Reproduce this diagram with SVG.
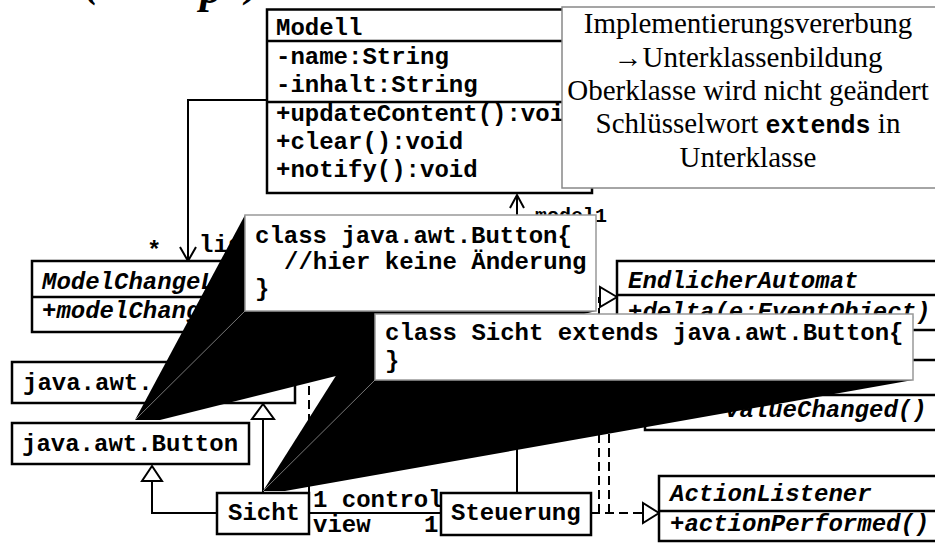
<svg xmlns="http://www.w3.org/2000/svg" width="935" height="543" viewBox="0 0 935 543">
<style>
.box{fill:#fff;stroke:#000;stroke-width:2.5}
.div{stroke:#000;stroke-width:2.5}
.t{font-family:"Liberation Mono","DejaVu Sans Mono",monospace;font-weight:bold;font-size:24px;fill:#000}
.i{font-style:italic}
.conn{stroke:#000;stroke-width:2;fill:none}
.dash{stroke-dasharray:9,5}
.tri{fill:#fff;stroke:#000;stroke-width:2}
.wedge{fill:#000}
.thin{stroke:#777;stroke-width:1;fill:none}
.callout{fill:#fff;stroke:#999;stroke-width:1.5}
.serif{font-family:"Liberation Serif","Times New Roman",serif;font-size:29px;fill:#000}
</style>

<g id="title">
  <text class="serif" style="font-size:44px;font-weight:bold;font-style:italic" x="84" y="-4">(</text>
  <text class="serif" style="font-size:44px;font-weight:bold;font-style:italic" x="200" y="3">p</text>
  <text class="serif" style="font-size:44px;font-weight:bold;font-style:italic" x="246" y="-4">)</text>
</g>

<g id="connectors">
  <path class="conn" d="M267,100 H188 V260"/>
  <path class="conn" d="M180,247 L188,261 L196,247"/>
  <text class="t" x="147" y="258">*</text>
  <text class="t" x="199" y="252">listener</text>

  <path class="conn" d="M217,513 H152 V481"/>
  <polygon class="tri" points="152,466 142,481 162,481"/>
  <path class="conn" d="M263,493 V419"/>
  <polygon class="tri" points="263,404 252,419 274,419"/>
  <path class="conn dash" d="M309,493 V332"/>

  <path class="conn" d="M309,513 H441"/>
  <text class="t" x="313" y="507">1 control</text>
  <text class="t" x="313" y="532">view</text>
  <text class="t" x="424" y="532">1</text>

  <path class="conn" d="M517,493 V195"/>
  <path class="conn" d="M510,208 L517,195 L524,208"/>
  <text class="t" style="font-size:20px" x="535" y="222">model1</text>

  <path class="conn dash" d="M591,513 H643"/>
  <polygon class="tri" points="659,513 643,503 643,523"/>
  <path class="conn dash" d="M599,513 V297"/>
  <polygon class="tri" points="617,297 600,287 600,307"/>
  <path class="conn dash" d="M609,513 V377 H629"/>
  <polygon class="tri" points="645,377 629,367 629,387"/>
</g>

<g id="Modell">
  <rect class="box" x="267" y="9.5" width="325" height="183.5"/>
  <line class="div" x1="267" y1="41" x2="592" y2="41"/>
  <line class="div" x1="267" y1="102" x2="592" y2="102"/>
  <text class="t" x="276" y="35">Modell</text>
  <text class="t" x="276" y="64">-name:String</text>
  <text class="t" x="276" y="92">-inhalt:String</text>
  <text class="t" x="276" y="121">+updateContent():void</text>
  <text class="t" x="276" y="149">+clear():void</text>
  <text class="t" x="276" y="177">+notify():void</text>
</g>

<g id="ModelChangeListener">
  <rect class="box" x="32" y="261" width="300" height="71"/>
  <line class="div" x1="32" y1="297" x2="332" y2="297"/>
  <text class="t i" x="42" y="289">ModelChangeListener</text>
  <text class="t i" x="42" y="318">+modelChanged()</text>
</g>

<g id="awtBase">
  <rect class="box" x="12" y="362" width="283" height="41"/>
  <text class="t" x="23" y="390">java.awt.</text>
</g>

<g id="Button">
  <rect class="box" x="12" y="423" width="237" height="41"/>
  <text class="t" x="22" y="451">java.awt.Button</text>
</g>

<g id="Sicht">
  <rect class="box" x="217" y="493" width="92" height="41"/>
  <text class="t" x="228" y="520">Sicht</text>
</g>

<g id="Steuerung">
  <rect class="box" x="441" y="493" width="150" height="42"/>
  <text class="t" x="451" y="520">Steuerung</text>
</g>

<g id="EndlicherAutomat">
  <rect class="box" x="617" y="261" width="330" height="69"/>
  <line class="div" x1="617" y1="295" x2="947" y2="295"/>
  <text class="t i" x="628" y="288">EndlicherAutomat</text>
  <text class="t i" x="628" y="319">+delta(e:EventObject)</text>
</g>

<g id="ValueListener">
  <rect class="box" x="645" y="360" width="300" height="70"/>
  <line class="div" x1="645" y1="395" x2="945" y2="395"/>
  <text class="t i" x="725" y="417">valueChanged()</text>
</g>

<g id="ActionListener">
  <rect class="box" x="659" y="476" width="290" height="65"/>
  <line class="div" x1="659" y1="511" x2="949" y2="511"/>
  <text class="t i" x="670" y="501">ActionListener</text>
  <text class="t i" x="670" y="531">+actionPerformed()</text>
</g>

<g id="note">
  <rect x="562" y="7" width="380" height="181" fill="#fff" stroke="#888" stroke-width="1.5"/>
  <text class="serif" text-anchor="middle" x="748" y="33">Implementierungsvererbung</text>
  <text class="serif" text-anchor="middle" x="748" y="67">→Unterklassenbildung</text>
  <text class="serif" text-anchor="middle" x="748" y="100">Oberklasse wird nicht geändert</text>
  <text class="serif" text-anchor="middle" x="748" y="133">Schlüsselwort <tspan style="font-family:'Liberation Mono',monospace;font-weight:bold;font-size:25px">extends</tspan> in</text>
  <text class="serif" text-anchor="middle" x="748" y="167">Unterklasse</text>
</g>

<g id="callout1">
  <polygon class="wedge" points="135,420 245,215 596,311 160,420"/>
  <line class="thin" x1="245" y1="311" x2="135" y2="420"/>
  <rect class="callout" x="245" y="215" width="351" height="96"/>
  <text class="t" x="255" y="243">class java.awt.Button{</text>
  <text class="t" x="284" y="269">//hier keine Änderung</text>
  <text class="t" x="255" y="296">}</text>
</g>

<g id="callout2">
  <polygon class="wedge" points="263,491 375,314 913,380 285,491"/>
  <line class="thin" x1="375" y1="380" x2="263" y2="491"/>
  <rect class="callout" x="375" y="314" width="538" height="66"/>
  <text class="t" x="385" y="340">class Sicht extends java.awt.Button{</text>
  <text class="t" x="385" y="368">}</text>
</g>
</svg>
